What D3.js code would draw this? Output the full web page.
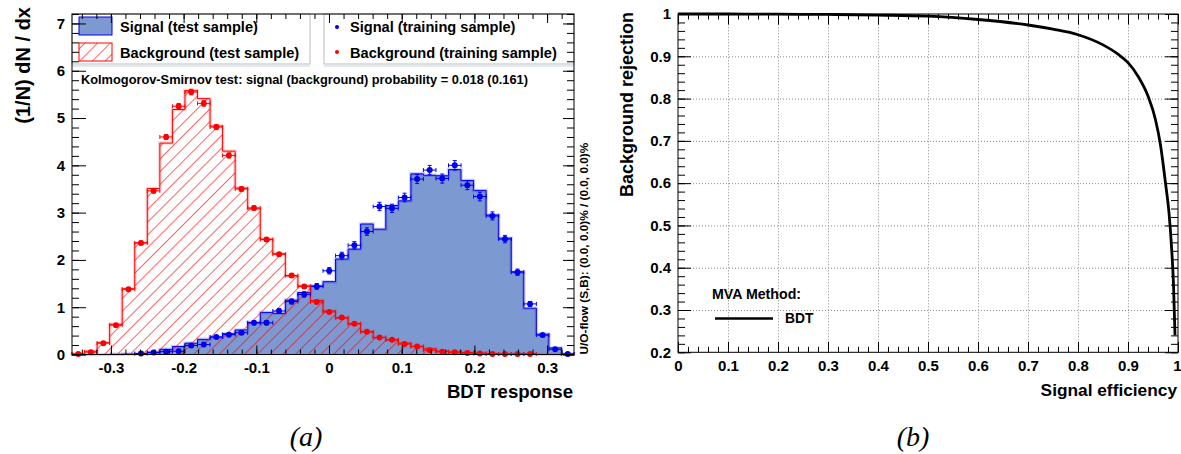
<!DOCTYPE html>
<html>
<head>
<meta charset="utf-8">
<script src="https://cdn.jsdelivr.net/npm/d3@7"></script>
<style>
  body { margin: 0; background: #fff; }
  svg text { font-family: "Liberation Sans", Arial, sans-serif; font-weight: bold; fill: #000; }
</style>
</head>
<body>
<svg id="fig" width="1181" height="454"></svg>
<script>
// ---- (a) BDT response, 40 bins ----
const bdtRange = [-0.3535, 0.337];
const nBins = 40;
const sigTest = [0, 0, 0, 0.005, 0.01, 0.02, 0.05, 0.11, 0.17, 0.24,
                 0.32, 0.37, 0.44, 0.52, 0.68, 0.89, 0.87, 1.15, 1.31, 1.45,
                 1.54, 2.02, 2.23, 2.76, 2.65, 3.15, 3.25, 3.82, 3.79, 3.78,
                 3.91, 3.68, 3.47, 2.95, 2.46, 1.75, 0.98, 0.43, 0.14, 0.01];
const bkgTest = [0.01, 0.07, 0.25, 0.64, 1.39, 2.36, 3.51, 4.47, 5.18, 5.58,
                 5.41, 4.83, 4.30, 3.52, 3.08, 2.44, 2.13, 1.66, 1.45, 1.14,
                 0.92, 0.77, 0.65, 0.48, 0.36, 0.31, 0.24, 0.17, 0.12, 0.07,
                 0.05, 0.04, 0.03, 0.02, 0.01, 0.01, 0.01, 0, 0, 0];
const sigTrain = [0, 0, 0, 0, 0, 0.02, 0.04, 0.06, 0.07, 0.19,
                  0.21, 0.37, 0.42, 0.46, 0.67, 0.67, 0.92, 1.12, 1.27, 1.44,
                  1.77, 2.09, 2.31, 2.60, 3.13, 3.09, 3.32, 3.71, 3.90, 3.72,
                  4.00, 3.58, 3.34, 2.93, 2.44, 1.74, 1.07, 0.41, 0.11, 0.01];
const bkgTrain = [0.01, 0.05, 0.24, 0.62, 1.38, 2.36, 3.46, 4.60, 5.25, 5.55,
                  5.31, 4.81, 4.21, 3.50, 3.10, 2.43, 2.12, 1.67, 1.44, 1.11,
                  0.90, 0.78, 0.65, 0.48, 0.36, 0.31, 0.22, 0.17, 0.09, 0.06,
                  0.05, 0.03, 0.02, 0.01, 0.01, 0.01, 0.01, 0, 0, 0];
const bdtTicks = [-0.3, -0.2, -0.1, 0, 0.1, 0.2, 0.3];
const densTicks = [0, 1, 2, 3, 4, 5, 6, 7];

// ---- (b) ROC curve ----
const rocEff = [0, 0.1, 0.2, 0.3, 0.4, 0.5, 0.6, 0.7, 0.75, 0.8, 0.85, 0.88, 0.9,
                0.92, 0.94, 0.955, 0.965, 0.975, 0.982, 0.987, 0.991, 0.994];
const rocRej = [1, 1, 0.9995, 0.999, 0.9975, 0.995, 0.987, 0.974, 0.964, 0.951, 0.927, 0.905, 0.885,
                0.853, 0.806, 0.75, 0.69, 0.60, 0.53, 0.45, 0.36, 0.24];
const effTicks = [0, 0.1, 0.2, 0.3, 0.4, 0.5, 0.6, 0.7, 0.8, 0.9, 1];
const rejTicks = [0.2, 0.3, 0.4, 0.5, 0.6, 0.7, 0.8, 0.9, 1];

const sigFill = '#7d99d1', sigLine = '#0000ee', bkgLine = '#ff0000';

const svg = d3.select('#fig');
const defs = svg.append('defs');

// red hatch like ROOT fill style 3554
defs.append('pattern')
    .attr('id', 'hatch')
    .attr('patternUnits', 'userSpaceOnUse')
    .attr('width', 9).attr('height', 9)
    .attr('patternTransform', 'rotate(45)')
  .append('line')
    .attr('x1', 0).attr('y1', 0).attr('x2', 0).attr('y2', 9)
    .attr('stroke', '#ff0000').attr('stroke-width', 1.2);

// ================= panel (a) =================
const A = { left: 72, right: 574, top: 14, bottom: 354.5 };
const x = d3.scaleLinear().domain(bdtRange).range([A.left, A.right]);
const y = d3.scaleLinear().domain([0, 7.2]).range([A.bottom, A.top]);
const binW = (bdtRange[1] - bdtRange[0]) / nBins;
const edge = i => bdtRange[0] + i * binW;

const stepPts = vals => vals.map((v, i) => [edge(i), v]).concat([[edge(nBins), vals[nBins - 1]]]);
const outlinePts = vals => [[edge(0), 0]].concat(stepPts(vals), [[edge(nBins), 0]]);

const area = d3.area().x(d => x(d[0])).y0(y(0)).y1(d => y(d[1])).curve(d3.curveStepAfter);
const step = d3.line().x(d => x(d[0])).y(d => y(d[1])).curve(d3.curveStepAfter);

const pa = svg.append('g');

// signal test sample
pa.append('path').attr('d', area(stepPts(sigTest))).attr('fill', sigFill);
pa.append('path').attr('d', step(outlinePts(sigTest)))
    .attr('fill', 'none').attr('stroke', sigLine).attr('stroke-width', 3.5).attr('opacity', 0.18);
pa.append('path').attr('d', step(outlinePts(sigTest)))
    .attr('fill', 'none').attr('stroke', sigLine).attr('stroke-width', 1);

// background test sample
pa.append('path').attr('d', area(stepPts(bkgTest))).attr('fill', 'url(#hatch)');
pa.append('path').attr('d', step(outlinePts(bkgTest)))
    .attr('fill', 'none').attr('stroke', bkgLine).attr('stroke-width', 3.5).attr('opacity', 0.18);
pa.append('path').attr('d', step(outlinePts(bkgTest)))
    .attr('fill', 'none').attr('stroke', bkgLine).attr('stroke-width', 1);

// training samples as points with error bars
function drawPoints(vals, color, errScale) {
    const g = pa.append('g').attr('stroke', color).attr('fill', color);
    const pts = g.selectAll('g')
        .data(vals.map((v, i) => ({ v, i })).filter(d => d.v > 0))
        .join('g');
    const hi = d => y(d.v + errScale * Math.sqrt(d.v));
    const lo = d => y(Math.max(0, d.v - errScale * Math.sqrt(d.v)));
    const cx = d => x(edge(d.i + 0.5));
    pts.append('line')
        .attr('x1', d => x(edge(d.i))).attr('x2', d => x(edge(d.i + 1)))
        .attr('y1', d => y(d.v)).attr('y2', d => y(d.v)).attr('stroke-width', 1);
    pts.append('line')
        .attr('x1', d => x(edge(d.i))).attr('x2', d => x(edge(d.i)))
        .attr('y1', d => y(d.v) - 2).attr('y2', d => y(d.v) + 2).attr('stroke-width', 1);
    pts.append('line')
        .attr('x1', d => x(edge(d.i + 1))).attr('x2', d => x(edge(d.i + 1)))
        .attr('y1', d => y(d.v) - 2).attr('y2', d => y(d.v) + 2).attr('stroke-width', 1);
    pts.append('line')
        .attr('x1', cx).attr('x2', cx).attr('y1', hi).attr('y2', lo).attr('stroke-width', 1);
    pts.append('line')
        .attr('x1', d => cx(d) - 2).attr('x2', d => cx(d) + 2).attr('y1', hi).attr('y2', hi).attr('stroke-width', 1);
    pts.append('line')
        .attr('x1', d => cx(d) - 2).attr('x2', d => cx(d) + 2).attr('y1', lo).attr('y2', lo).attr('stroke-width', 1);
    pts.append('circle')
        .attr('cx', cx).attr('cy', d => y(d.v))
        .attr('r', 3).attr('stroke', 'none');
}
drawPoints(sigTrain, sigLine, 0.05);
drawPoints(bkgTrain, bkgLine, 0.025);

// legends
const legBox = (x0, x1) => {
    pa.append('rect').attr('x', x0).attr('y', A.top).attr('width', x1 - x0).attr('height', 50)
        .attr('fill', '#fff').attr('stroke', '#b4bec4').attr('stroke-width', 1);
    pa.append('line').attr('x1', x0).attr('x2', x1).attr('y1', A.top + 52).attr('y2', A.top + 52)
        .attr('stroke', '#dde2e5').attr('stroke-width', 1.5);
};
legBox(A.left, 310);
legBox(324, A.right);

pa.append('rect').attr('x', 79).attr('y', 17).attr('width', 33).attr('height', 18)
    .attr('fill', sigFill).attr('stroke', sigLine).attr('stroke-width', 1);
pa.append('rect').attr('x', 79).attr('y', 43).attr('width', 33).attr('height', 18)
    .attr('fill', 'url(#hatch)').attr('stroke', bkgLine).attr('stroke-width', 1);
pa.append('text').attr('x', 120).attr('y', 32).attr('font-size', 14.6).text('Signal (test sample)');
pa.append('text').attr('x', 120).attr('y', 58).attr('font-size', 14.6).text('Background (test sample)');
pa.append('circle').attr('cx', 337).attr('cy', 27).attr('r', 2).attr('fill', sigLine);
pa.append('circle').attr('cx', 337).attr('cy', 52).attr('r', 2).attr('fill', bkgLine);
pa.append('text').attr('x', 350).attr('y', 32).attr('font-size', 14.6).text('Signal (training sample)');
pa.append('text').attr('x', 350).attr('y', 58).attr('font-size', 14.6).text('Background (training sample)');

pa.append('text').attr('x', 81).attr('y', 84).attr('font-size', 12.8)
    .text('Kolmogorov-Smirnov test: signal (background) probability = 0.018 (0.161)');

// axes (ROOT style: ticks inside the frame on all four sides)
const minorX = d3.range(-17, 17).map(i => i * 0.02).filter(v => v >= bdtRange[0] && v <= bdtRange[1]);
const minorY = d3.range(0, 37).map(i => i * 0.2).filter(v => v <= 7.2);
const clean = g => { g.select('.domain').remove(); g.selectAll('line').attr('stroke', '#000'); };

pa.append('g').attr('transform', `translate(0,${A.bottom})`)
    .call(d3.axisBottom(x).tickValues(minorX).tickSize(-5).tickFormat('')).call(clean);
pa.append('g').attr('transform', `translate(0,${A.bottom})`)
    .call(d3.axisBottom(x).tickValues(bdtTicks).tickSize(-9).tickPadding(8).tickFormat(d => String(d)))
    .call(clean)
    .selectAll('text').attr('font-size', 15).attr('font-family', null);
pa.append('g').attr('transform', `translate(0,${A.top})`)
    .call(d3.axisTop(x).tickValues(minorX).tickSize(-5).tickFormat('')).call(clean);
pa.append('g').attr('transform', `translate(0,${A.top})`)
    .call(d3.axisTop(x).tickValues(bdtTicks).tickSize(-9).tickFormat('')).call(clean);
pa.append('g').attr('transform', `translate(${A.left},0)`)
    .call(d3.axisLeft(y).tickValues(minorY).tickSize(-7).tickFormat('')).call(clean);
pa.append('g').attr('transform', `translate(${A.left},0)`)
    .call(d3.axisLeft(y).tickValues(densTicks).tickSize(-14).tickPadding(7).tickFormat(d3.format('d')))
    .call(clean)
    .selectAll('text').attr('font-size', 15).attr('font-family', null);
pa.append('g').attr('transform', `translate(${A.right},0)`)
    .call(d3.axisRight(y).tickValues(minorY).tickSize(-7).tickFormat('')).call(clean);
pa.append('g').attr('transform', `translate(${A.right},0)`)
    .call(d3.axisRight(y).tickValues(densTicks).tickSize(-11).tickFormat('')).call(clean);
pa.selectAll('.tick text').attr('fill', '#000');

pa.append('rect').attr('x', A.left).attr('y', A.top)
    .attr('width', A.right - A.left).attr('height', A.bottom - A.top)
    .attr('fill', 'none').attr('stroke', '#000').attr('stroke-width', 1);

pa.append('text').attr('transform', 'translate(30,7) rotate(-90)')
    .attr('text-anchor', 'end').attr('font-size', 20).text('(1/N) dN / dx');
pa.append('text').attr('x', A.right - 1).attr('y', 398).attr('text-anchor', 'end')
    .attr('font-size', 18.6).text('BDT response');
pa.append('text').attr('transform', `translate(588,${A.bottom}) rotate(-90)`)
    .attr('font-size', 11.8).text('U/O-flow (S,B): (0.0, 0.0)% / (0.0, 0.0)%');

// ================= panel (b) =================
const B = { left: 678, right: 1178, top: 14, bottom: 352.3 };
const ex = d3.scaleLinear().domain([0, 1]).range([B.left, B.right]);
const ry = d3.scaleLinear().domain([0.2, 1]).range([B.bottom, B.top]);
const pb = svg.append('g');

// dotted grid
pb.append('g').attr('transform', `translate(0,${B.bottom})`)
    .call(d3.axisBottom(ex).tickValues(effTicks.slice(1, -1)).tickSize(-(B.bottom - B.top)).tickFormat(''))
    .call(g => g.select('.domain').remove())
    .selectAll('line').attr('stroke', '#8a8a8a').attr('stroke-dasharray', '1,2');
pb.append('g').attr('transform', `translate(${B.left},0)`)
    .call(d3.axisLeft(ry).tickValues(rejTicks.slice(1, -1)).tickSize(-(B.right - B.left)).tickFormat(''))
    .call(g => g.select('.domain').remove())
    .selectAll('line').attr('stroke', '#8a8a8a').attr('stroke-dasharray', '1,2');

const minorE = d3.range(0, 51).map(i => i * 0.02);
const minorR = d3.range(10, 51).map(i => i * 0.02);

pb.append('g').attr('transform', `translate(0,${B.bottom})`)
    .call(d3.axisBottom(ex).tickValues(minorE).tickSize(-5.5).tickFormat('')).call(clean);
pb.append('g').attr('transform', `translate(0,${B.bottom})`)
    .call(d3.axisBottom(ex).tickValues(effTicks).tickSize(-10.5).tickPadding(8).tickFormat(d => String(d)))
    .call(clean)
    .selectAll('text').attr('font-size', 15).attr('font-family', null)
    .attr('text-anchor', d => d === 1 ? 'end' : 'middle')
    .attr('dx', d => d === 1 ? 3 : 0);
pb.append('g').attr('transform', `translate(0,${B.top})`)
    .call(d3.axisTop(ex).tickValues(minorE).tickSize(-5.5).tickFormat('')).call(clean);
pb.append('g').attr('transform', `translate(0,${B.top})`)
    .call(d3.axisTop(ex).tickValues(effTicks).tickSize(-10.5).tickFormat('')).call(clean);
pb.append('g').attr('transform', `translate(${B.left},0)`)
    .call(d3.axisLeft(ry).tickValues(minorR).tickSize(-7).tickFormat('')).call(clean);
pb.append('g').attr('transform', `translate(${B.left},0)`)
    .call(d3.axisLeft(ry).tickValues(rejTicks).tickSize(-13).tickPadding(7).tickFormat(d => String(d)))
    .call(clean)
    .selectAll('text').attr('font-size', 15).attr('font-family', null);
pb.append('g').attr('transform', `translate(${B.right},0)`)
    .call(d3.axisRight(ry).tickValues(minorR).tickSize(-7).tickFormat('')).call(clean);
pb.append('g').attr('transform', `translate(${B.right},0)`)
    .call(d3.axisRight(ry).tickValues(rejTicks).tickSize(-13).tickFormat('')).call(clean);
pb.selectAll('.tick text').attr('fill', '#000');

pb.append('rect').attr('x', B.left).attr('y', B.top)
    .attr('width', B.right - B.left).attr('height', B.bottom - B.top)
    .attr('fill', 'none').attr('stroke', '#000').attr('stroke-width', 1);

const roc = d3.line().x((d, i) => ex(rocEff[i])).y(d => ry(d)).curve(d3.curveMonotoneX);
pb.append('path').attr('d', roc(rocRej))
    .attr('fill', 'none').attr('stroke', '#000').attr('stroke-width', 2.8);

// legend
pb.append('text').attr('x', 712).attr('y', 299).attr('font-size', 14.2).text('MVA Method:');
pb.append('line').attr('x1', 715).attr('x2', 773).attr('y1', 318.5).attr('y2', 318.5)
    .attr('stroke', '#000').attr('stroke-width', 2.5);
pb.append('text').attr('x', 785).attr('y', 323).attr('font-size', 13.8).text('BDT');

pb.append('text').attr('transform', 'translate(633,12) rotate(-90)')
    .attr('text-anchor', 'end').attr('font-size', 18).text('Background rejection');
pb.append('text').attr('x', B.right - 1).attr('y', 396).attr('text-anchor', 'end')
    .attr('font-size', 17.3).text('Signal efficiency');

// sub-figure captions
svg.append('text').attr('x', 306).attr('y', 446).attr('text-anchor', 'middle')
    .style('font-family', '"Liberation Serif", "DejaVu Serif", serif').style('font-style', 'italic')
    .style('font-weight', 'normal').attr('font-size', 28).text('(a)');
svg.append('text').attr('x', 913).attr('y', 446).attr('text-anchor', 'middle')
    .style('font-family', '"Liberation Serif", "DejaVu Serif", serif').style('font-style', 'italic')
    .style('font-weight', 'normal').attr('font-size', 28).text('(b)');
</script>
</body>
</html>
